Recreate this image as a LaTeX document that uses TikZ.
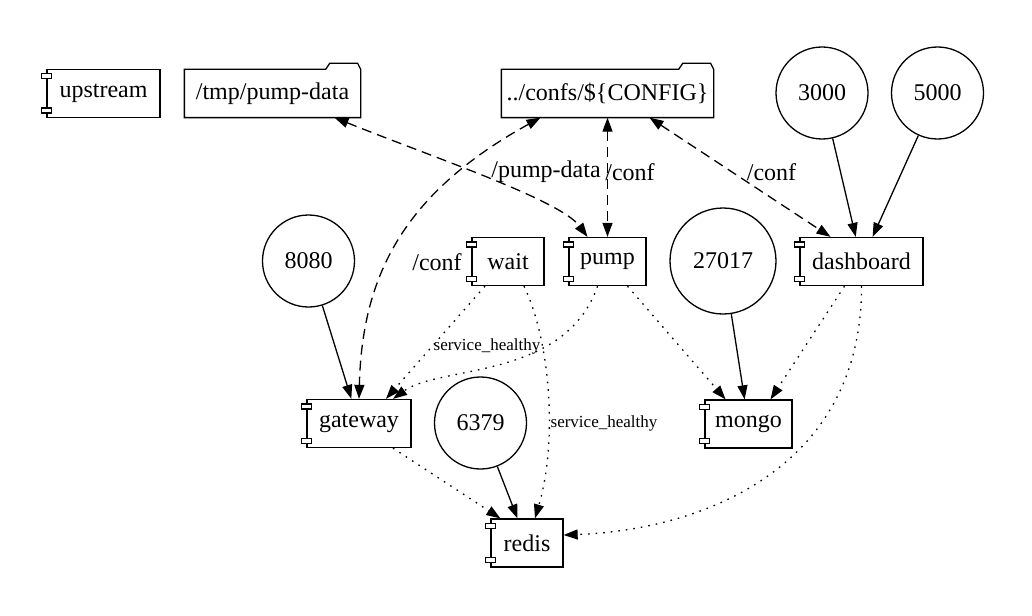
\documentclass[tikz,border=0pt]{standalone}
\usepackage{fontspec}
\setmainfont{Liberation Serif}
\usetikzlibrary{arrows.meta, positioning, shapes, calc}

\begin{document}
\begin{tikzpicture}[x=0.5pt, y=-0.5pt, line width=0.65pt,
    >={Triangle[length=7pt, width=5pt]},
    comp/.style={draw, fill=white, minimum height=24pt, inner sep=0pt, font=\fontsize{12}{14}\selectfont},
    folder/.style={minimum height=23.5pt, inner sep=0pt, font=\fontsize{12}{14}\selectfont},
    port/.style={draw, circle, minimum size=46pt, inner sep=0pt, font=\fontsize{12}{14}\selectfont},
    tab/.style={draw, fill=white, line width=0.65pt},
    lbl/.style={font=\fontsize{12}{14}\selectfont, inner sep=0pt},
    small/.style={font=\fontsize{8.5}{10}\selectfont, inner sep=0pt},
    expose/.style={->},
    mount/.style={<->, dash pattern=on 5pt off 3pt},
    needs/.style={->, dash pattern=on 0.8pt off 3pt}
  ]
    \useasboundingbox (0,0) rectangle (1032,615);

    % Services
    \node[comp, minimum width=56.5pt] (upstream) at (103.5, 93.5) {upstream};
    \node[comp, minimum width=36pt] (wait) at (508, 261.5) {wait};
    \node[comp, minimum width=38.5pt] (pump) at (607.5, 261.5) {pump};
    \node[comp, minimum width=61.5pt] (dashboard) at (861.5, 261.5) {dashboard};
    \node[comp, minimum width=52pt] (gateway) at (359, 423.5) {gateway};
    \node[comp, minimum width=43.5pt] (mongo) at (748.5, 424) {mongo};
    \node[comp, minimum width=36pt] (redis) at (527, 543) {redis};

    % Component tabs
    \foreach \n in {upstream, wait, pump, dashboard, gateway, mongo, redis} {
      \draw[tab] ($(\n.north west)+(-5,5)$) rectangle ++(10,5);
      \draw[tab] ($(\n.south west)+(-5,-10)$) rectangle ++(10,5);
    }

    % Volumes
    \node[folder, minimum width=87.5pt] (tmp) at (272.5, 93.5) {/tmp/pump-data};
    \node[folder, minimum width=105.5pt] (confs) at (607.5, 93.5) {../confs/\$\{CONFIG\}};
    \foreach \n in {tmp, confs} {
      \draw (\n.south west) -- (\n.north west) -- ($(\n.north east)+(-35,0)$)
        -- ++(4,-6) -- ++(28,0) -- ++(3,6) -- (\n.south east) -- cycle;
    }

    % Ports
    \node[port] (c3000) at (822, 93) {3000};
    \node[port] (c5000) at (937.5, 93) {5000};
    \node[port] (c8080) at (308.5, 261) {8080};
    \node[port, minimum size=53pt] (c27017) at (723, 261) {27017};
    \node[port] (c6379) at (480.5, 423) {6379};

    \draw[expose] (c3000) -- (dashboard);
    \draw[expose] (c5000) -- (dashboard);
    \draw[expose] (c8080) -- (gateway);
    \draw[expose] (c27017) -- (mongo);
    \draw[expose] (c6379) -- (redis);

    % Mounts
    \draw[mount] ($(confs.south)+(-67,0)$) .. controls (400,195) and (362,280) .. (gateway.north);
    \draw[mount] ($(tmp.south)+(62,0)$) .. controls (435,158) and (560,200) .. ($(pump.north)+(-20,0)$);
    \draw[mount] (confs.south) -- (pump.north);
    \draw[mount] ($(confs.south)+(42,0)$) -- ($(dashboard.north)+(-31,0)$);

    % Dependencies
    \draw[needs] ($(wait.south)+(-23,0)$) -- ($(gateway.north)+(27,0)$);
    \draw[needs] ($(wait.south)+(16,0)$) .. controls (550,340) and (558,440) .. ($(redis.north)+(8,0)$);
    \draw[needs] ($(pump.south)+(-10,0)$) .. controls (565,380) and (440,365) .. ($(gateway.north)+(34,0)$);
    \draw[needs] ($(pump.south)+(20,0)$) -- ($(mongo.north)+(-23,0)$);
    \draw[needs] ($(dashboard.south)+(-17,0)$) -- ($(mongo.north)+(22,0)$);
    \draw[needs] (dashboard.south) .. controls (862,470) and (700,530) .. ($(redis.east)+(0,-8)$);
    \draw[needs] ($(gateway.south)+(34,0)$) -- ($(redis.north west)+(10,0)$);

    % Edge labels
    \node[lbl] (lconfgw) at (437, 262) {/conf};
    \node[lbl] (lpumpdata) at (546, 172) {/pump-data};
    \node[lbl] (lconfpump) at (630, 172) {/conf};
    \node[lbl] (lconfdash) at (771.5, 172) {/conf};
    \node[small] (lhealthgw) at (487, 346) {service\_healthy};
    \node[small] (lhealthredis) at (604, 423) {service\_healthy};

\end{tikzpicture}
\end{document}
